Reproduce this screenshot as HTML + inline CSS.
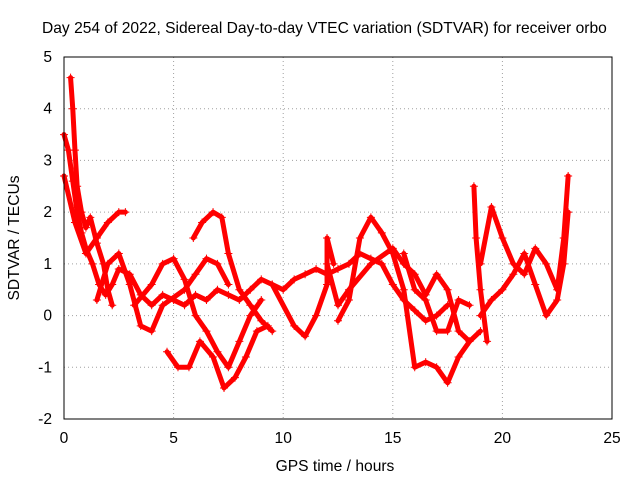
<!DOCTYPE html>
<html><head><meta charset="utf-8"><style>
body{margin:0;background:#fff;}
svg text{font-family:"Liberation Sans",sans-serif;font-size:15.6px;fill:#000;}
</style></head><body>
<svg id="chart" width="640" height="480" viewBox="0 0 640 480" xmlns="http://www.w3.org/2000/svg">
<rect width="640" height="480" fill="#fff"/>
<text x="42" y="33">Day 254 of 2022, Sidereal Day-to-day VTEC variation (SDTVAR) for receiver orbo</text>
<text x="335" y="471" text-anchor="middle">GPS time / hours</text>
<text transform="translate(19,238) rotate(-90)" text-anchor="middle">SDTVAR / TECUs</text>
<g id="grid"></g><g id="ticks"></g><g id="series"></g>
<rect x="64" y="57" width="548" height="362" fill="none" stroke="#000" stroke-width="1"/>
</svg>
<script>
const xTicks=[0,5,10,15,20,25];
const yTicks=[-2,-1,0,1,2,3,4,5];
const tA=[[0,3.5],[0.2,3.2],[0.4,2.6],[0.6,2.0],[0.8,1.6],[1.0,1.3],[1.3,1.0],[1.6,0.6],[1.9,0.4],[2.2,0.6],[2.5,0.9],[3.0,0.8],[3.5,0.4],[4.0,0.2],[4.5,0.4],[5,0.3],[5.5,0.2],[6,0.4],[6.5,0.3],[7,0.5],[7.5,0.4],[8,0.3],[8.5,0.5],[9,0.7],[9.5,0.6],[10,0.5],[10.5,0.7],[11,0.8],[11.5,0.9],[12,0.8],[12.5,0.9],[13,1.0],[13.5,1.2],[14,1.1],[14.5,1.0],[15,0.6],[15.5,0.3],[16,0.1],[16.5,-0.1],[17,0.0],[17.5,0.2]];
const tB=[[0.3,4.6],[0.4,4.0],[0.5,3.2],[0.6,2.5],[0.8,2.0],[1.0,1.7],[1.2,1.9],[1.5,1.4],[1.8,1.0],[2.0,0.5],[2.2,0.2]];
const tC=[[0,2.7],[0.5,1.8],[1.0,1.2],[1.5,1.5],[2.0,1.8],[2.5,2.0],[2.8,2.0]];
const tD=[[5.9,1.5],[6.3,1.8],[6.8,2.0],[7.2,1.9],[7.5,1.2],[8,0.5],[8.5,0.2],[9,-0.1],[9.5,-0.3]];
const tE=[[4.7,-0.7],[5.2,-1.0],[5.7,-1.0],[6.2,-0.5],[6.8,-0.8],[7.3,-1.4],[7.8,-1.2],[8.3,-0.8],[8.8,-0.3],[9.3,-0.2]];
const tF=[[3.2,0.2],[4,0.6],[4.5,1.0],[5,1.1],[5.5,0.7],[6,0.0],[6.5,-0.3],[7,-0.7],[7.5,-1.0],[8,-0.5],[8.5,0.0],[9,0.3]];
const tG=[[1.5,0.3],[2,1.0],[2.5,1.2],[3,0.6],[3.5,-0.2],[4,-0.3],[4.5,0.2],[5.5,0.5],[6,0.8],[6.5,1.1],[7,1.0],[7.5,0.6]];
const tH=[[9.5,0.6],[10.5,-0.2],[11,-0.4],[11.5,0.0],[12,0.6],[12,1.5],[12.3,1.0]];
const tI=[[12.5,-0.1],[13,0.3],[13.5,1.5],[14,1.9],[14.5,1.6],[15,1.2],[15.5,0.5],[16,-1.0],[16.5,-0.9],[17,-1.0],[17.5,-1.3],[18,-0.8],[18.5,-0.5]];
const tJ=[[15.5,1.2],[16,0.5],[16.5,0.3],[17,-0.3],[17.5,-0.3],[18,0.3],[18.5,0.2]];
const tK=[[18.7,2.5],[18.8,1.5],[19,0.5],[19.3,-0.5]];
const tL=[[19,1.0],[19.5,2.1],[20,1.5],[20.5,1.0],[21,0.8],[21.5,1.3],[22,1.0],[22.5,0.5],[22.8,1.5],[23,2.7]];
const tM=[[19,0.0],[19.5,0.3],[20,0.5],[20.5,0.8],[21,1.2],[21.5,0.6],[22,0.0],[22.5,0.3],[22.8,1.0],[23,2.0]];
const tN=[[12,1.0],[12.5,0.2],[13,0.5],[14,1.0],[15,1.3],[15.5,1.0],[16,0.8],[16.5,0.4],[17,0.8],[17.5,0.5],[18,-0.3],[18.5,-0.5],[19,-0.3]];
const allSeries=[tA,tB,tC,tD,tE,tF,tG,tH,tI,tJ,tK,tL,tM,tN];
const NS="http://www.w3.org/2000/svg";
const X0=64,X1=612,Y0=419,Y1=57;
const sx=v=>X0+(v-0)/(25-0)*(X1-X0);
const sy=v=>Y0-(v+2)/(5+2)*(Y0-Y1);
const grid=document.getElementById('grid'),ticks=document.getElementById('ticks'),ser=document.getElementById('series');
function mk(tag,attrs,parent){const e=document.createElementNS(NS,tag);for(const k in attrs)e.setAttribute(k,attrs[k]);parent.appendChild(e);return e;}
xTicks.forEach(v=>{
  const x=sx(v);
  if(v>0&&v<25){const g=mk('line',{x1:x,x2:x,y1:Y1,y2:Y0,stroke:'#a0a0a0','stroke-dasharray':'1,3'},grid);
  
  }
  const t=mk('text',{x:x,y:443,'text-anchor':'middle'},ticks);t.textContent=v;
  
  
});
yTicks.forEach(v=>{
  const y=sy(v);
  if(v>-2&&v<5){const g=mk('line',{x1:X0,x2:X1,y1:y,y2:y,stroke:'#a0a0a0','stroke-dasharray':'1,3'},grid);
  
  }
  const t=mk('text',{x:52,y:y+5,'text-anchor':'end'},ticks);t.textContent=v;
  
  
});
allSeries.forEach((s,i)=>{
  const g=mk('g',{},ser);
  
  
  mk('polyline',{points:s.map(p=>sx(p[0])+','+sy(p[1])).join(' '),fill:'none',stroke:'#ff0000','stroke-width':5,'stroke-linejoin':'round','stroke-linecap':'round'},g);
  s.forEach(p=>{
    const x=sx(p[0]),y=sy(p[1]);
    const m=mk('path',{d:`M${x-4},${y}H${x+4}M${x},${y-4}V${y+4}`,stroke:'#ff0000','stroke-width':1},g);
    
    
  });
});
</script>
</body></html>
